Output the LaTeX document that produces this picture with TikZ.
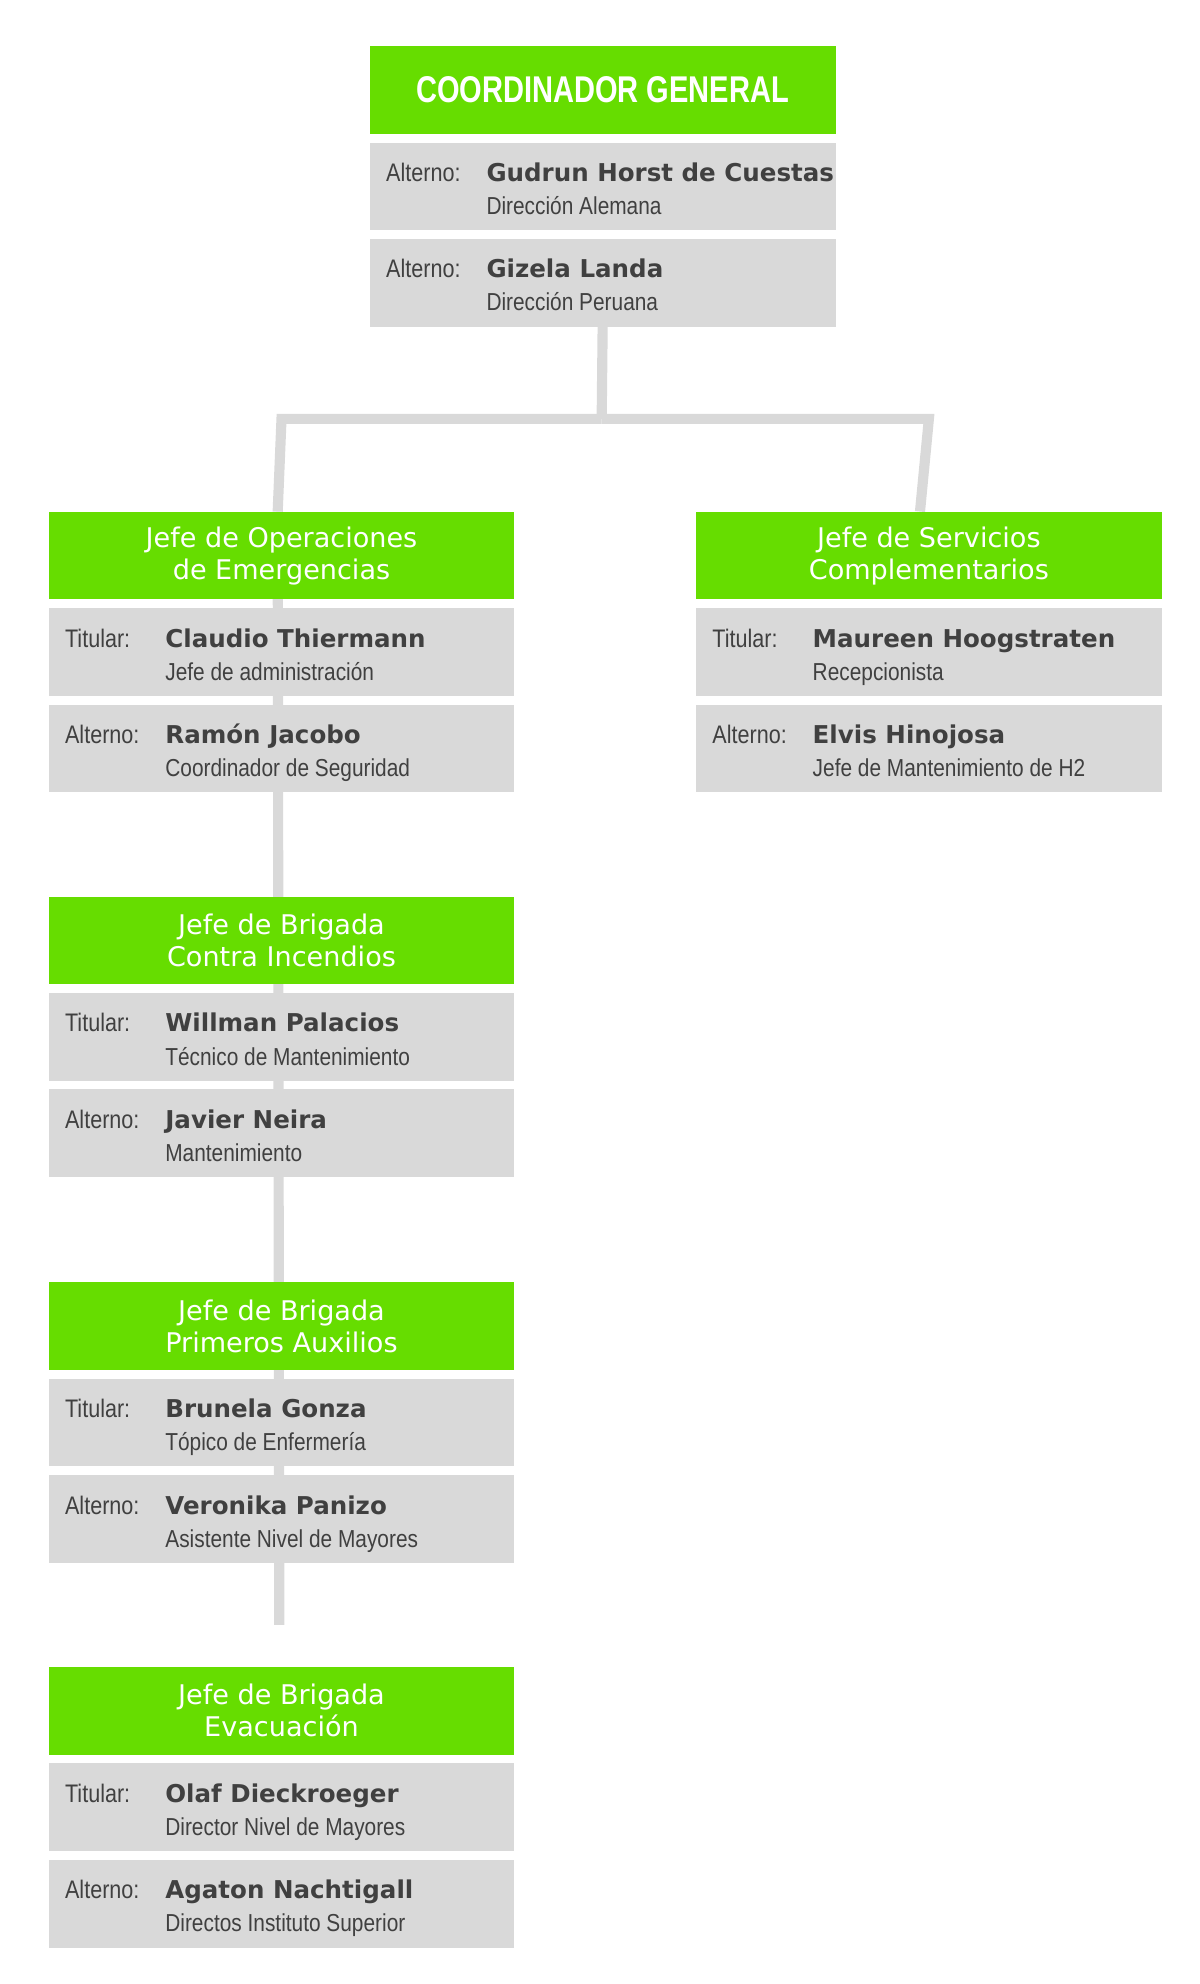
\documentclass[tikz,border=0pt]{standalone}
\usepackage{fontspec}
\setmainfont{DejaVu Sans}
\newfontfamily\condfont[FakeStretch=0.85]{Liberation Sans}
\newfontfamily\titlefont[FakeStretch=0.78]{Liberation Sans}
\usetikzlibrary{positioning,calc}
\definecolor{hgreen}{RGB}{102,221,0}
\definecolor{rgray}{RGB}{217,217,217}
\definecolor{tgray}{RGB}{64,64,64}
\pgfdeclarelayer{bg}
\pgfsetlayers{bg,main}

\newcommand\prow[6]{%
  \node[row, anchor=north west] (#1) at (#2,#3) {};
  \node[lbl] (#1-l) at ($(#1.north west)+(13,31)$) {#4};
  \node[nm] (#1-n) at ($(#1.north west)+(92,31)$) {#5};
  \node[rl] (#1-r) at ($(#1.north west)+(92,57)$) {#6};}
\newcommand\pblock[8]{% name, x, y, head, titular, role, alterno, role
  \node[head, anchor=north west] (#1) at (#2,#3) {#4};
  \prow{#1-tit}{#2}{#3+76}{Titular:}{#5}{#6}
  \prow{#1-alt}{#2}{#3+152}{Alterno:}{#7}{#8}}

\begin{document}
\begin{tikzpicture}[x=0.75pt,y=-0.75pt,
  head/.style={fill=hgreen, minimum width=275.25pt, minimum height=51.75pt, inner sep=0pt,
    text=white, align=center, font=\fontsize{16}{19}\selectfont},
  row/.style={fill=rgray, minimum width=275.25pt, minimum height=51.75pt, inner sep=0pt},
  lbl/.style={anchor=base west, inner sep=0pt, text=tgray, font=\condfont\fontsize{15}{18}\selectfont},
  nm/.style={anchor=base west, inner sep=0pt, text=tgray, font=\bfseries\fontsize{14.5}{18}\selectfont},
  rl/.style={anchor=base west, inner sep=0pt, text=tgray, font=\condfont\fontsize{14.5}{18}\selectfont},
  link/.style={draw=rgray, line width=6pt}]
\useasboundingbox (0,0) rectangle (945,1563);

\node[head, anchor=north west, font=\titlefont\bfseries\fontsize{22}{26}\selectfont] (coord) at (291,36) {COORDINADOR GENERAL};
\prow{coord-a1}{291}{112}{Alterno:}{Gudrun Horst de Cuestas}{Dirección Alemana}
\prow{coord-a2}{291}{188}{Alterno:}{Gizela Landa}{Dirección Peruana}

\pblock{ops}{38}{403}{Jefe de Operaciones\\de Emergencias}{Claudio Thiermann}{Jefe de administración}{Ramón Jacobo}{Coordinador de Seguridad}
\pblock{serv}{548}{403}{Jefe de Servicios\\Complementarios}{Maureen Hoogstraten}{Recepcionista}{Elvis Hinojosa}{Jefe de Mantenimiento de H2}
\pblock{inc}{38}{706}{Jefe de Brigada\\Contra Incendios}{Willman Palacios}{Técnico de Mantenimiento}{Javier Neira}{Mantenimiento}
\pblock{aux}{38}{1010}{Jefe de Brigada\\Primeros Auxilios}{Brunela Gonza}{Tópico de Enfermería}{Veronika Panizo}{Asistente Nivel de Mayores}
\pblock{evac}{38}{1313}{Jefe de Brigada\\Evacuación}{Olaf Dieckroeger}{Director Nivel de Mayores}{Agaton Nachtigall}{Directos Instituto Superior}

\coordinate (split) at (474,330);
\coordinate (tail) at (220,1280);
\begin{pgfonlayer}{bg}
  \draw[link] (coord-a2.south) -- (split);
  \draw[link] (split) -- (split-|ops.north) -- ([xshift=-2.25pt]ops.north);
  \draw[link] (split) -- (split-|serv.north) -- ([xshift=-5.25pt]serv.north);
  \draw[link] ([xshift=-2.25pt]ops.north) -- (tail);
\end{pgfonlayer}
\end{tikzpicture}
\end{document}
